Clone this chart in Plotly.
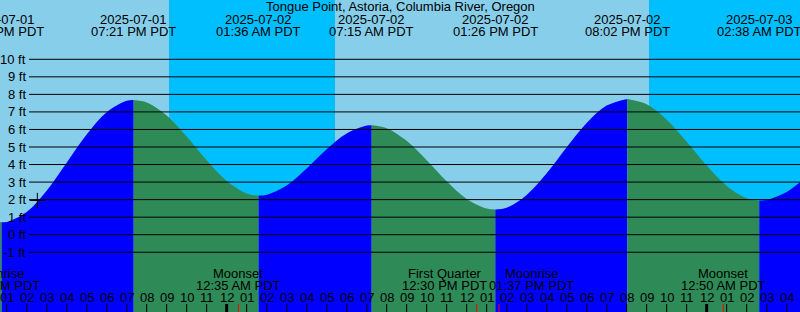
import pandas as pd
import plotly.graph_objects as go

# ---------------- data ----------------
title_text = "Tongue Point, Astoria, Columbia River, Oregon"

# tide extremes
tide_times = ["2025-07-01 12:45", "2025-07-01 19:21", "2025-07-02 01:36", "2025-07-02 07:15",
              "2025-07-02 13:26", "2025-07-02 20:02", "2025-07-03 02:38"]
tide_heights = [0.71, 7.68, 2.23, 6.24, 1.43, 7.74, 1.95]

# water level (ft)
level_times = ["2025-07-01 12:00", "2025-07-01 13:00", "2025-07-01 14:00", "2025-07-01 15:00",
               "2025-07-01 16:00", "2025-07-01 17:00", "2025-07-01 18:00", "2025-07-01 19:00",
               "2025-07-01 20:00", "2025-07-01 21:00", "2025-07-01 22:00", "2025-07-01 23:00",
               "2025-07-02 00:00", "2025-07-02 01:00", "2025-07-02 02:00", "2025-07-02 03:00",
               "2025-07-02 04:00", "2025-07-02 05:00", "2025-07-02 06:00", "2025-07-02 07:00",
               "2025-07-02 08:00", "2025-07-02 09:00", "2025-07-02 10:00", "2025-07-02 11:00",
               "2025-07-02 12:00", "2025-07-02 13:00", "2025-07-02 14:00", "2025-07-02 15:00",
               "2025-07-02 16:00", "2025-07-02 17:00", "2025-07-02 18:00", "2025-07-02 19:00",
               "2025-07-02 21:00", "2025-07-02 22:00", "2025-07-02 23:00", "2025-07-03 00:00",
               "2025-07-03 01:00", "2025-07-03 02:00", "2025-07-03 03:00", "2025-07-03 04:00",
               "2025-07-03 05:00"]
level_heights = [0.82, 0.73, 1.30, 2.51, 4.10, 5.71, 6.98, 7.63,
                 7.54, 6.80, 5.60, 4.24, 3.06, 2.35, 2.28, 2.81,
                 3.77, 4.87, 5.77, 6.22, 6.07, 5.35, 4.25, 3.05,
                 2.04, 1.49, 1.54, 2.27, 3.50, 4.99, 6.37, 7.36,
                 7.44, 6.56, 5.30, 3.94, 2.78, 2.08, 1.99, 2.44, 3.31]

# sun (night bands)
sunset_times = ["2025-07-01 21:07", "2025-07-02 21:07"]
sunrise_times = ["2025-07-02 05:25", "2025-07-03 05:26"]

# moon events
moon_times = ["2025-07-01 12:31", "2025-07-02 00:35", "2025-07-02 12:30",
              "2025-07-02 13:37", "2025-07-03 00:50"]
moon_names = ["Moonrise", "Moonset", "First Quarter", "Moonrise", "Moonset"]

# now marker
now_time = "2025-07-01 14:32"
now_height = 1.95

# axis labels
ft_values = list(range(-1, 11))
ft_labels = [f"{v} ft" for v in ft_values]
hour_ticks = pd.date_range("2025-07-01 13:00", "2025-07-03 04:00", freq="h")
hour_labels = [t.strftime("%I") for t in hour_ticks]

# ---------------- layout / style ----------------
W, H = 800, 312
x_range = ["2025-07-01 12:40", "2025-07-03 04:40"]
y_range = [-4.407, 13.381]
DAY = "#87CEEB"
NIGHT = "#00BFFF"
RISE = "#0000FF"
FALL = "#2E8B57"
FONT = dict(family="Liberation Sans", size=13, color="black")
moon_label_shift = [0, 0, -32, 32, 0]

t_start, t_end = pd.Timestamp(x_range[0]), pd.Timestamp(x_range[1])


def xfrac(t):
    return (pd.Timestamp(t) - t_start) / (t_end - t_start)


def yfrac(px):
    return 1 - px / H


fig = go.Figure()

# water fill segments (blue rising, green falling)
pts = pd.DataFrame({
    "t": pd.to_datetime(level_times + tide_times),
    "h": level_heights + tide_heights,
    "ext": [False] * len(level_times) + [True] * len(tide_times),
}).sort_values("t").reset_index(drop=True)
ext_idx = list(pts.index[pts["ext"]])
bounds = [0] + ext_idx + [len(pts) - 1]
base = y_range[0] - 2
for a, b in zip(bounds[:-1], bounds[1:]):
    if a == b:
        continue
    seg = pts.iloc[a:b + 1]
    color = RISE if seg["h"].iloc[-1] > seg["h"].iloc[0] else FALL
    fig.add_trace(go.Scatter(x=[seg["t"].iloc[0], seg["t"].iloc[-1]], y=[base, base],
                             mode="lines", line=dict(width=0), hoverinfo="skip",
                             showlegend=False))
    fig.add_trace(go.Scatter(x=seg["t"], y=seg["h"], mode="lines", fill="tonexty",
                             fillcolor=color, line=dict(width=0, shape="spline", color=color),
                             hoverinfo="skip", showlegend=False))

# now marker
fig.add_trace(go.Scatter(x=[now_time], y=[now_height], mode="markers",
                         marker=dict(symbol="cross-thin", size=11,
                                     line=dict(color="black", width=1)),
                         hoverinfo="skip", showlegend=False))

shapes = []
# night bands
for s, r in zip(sunset_times, sunrise_times):
    shapes.append(dict(type="rect", xref="x", yref="paper", x0=s, x1=r, y0=0, y1=1,
                       fillcolor=NIGHT, line=dict(width=0), layer="below"))
# grid lines
for v in ft_values:
    shapes.append(dict(type="line", xref="paper", yref="y", x0=29 / W, x1=1, y0=v, y1=v,
                       line=dict(color="black", width=1), layer="above"))
# hour ticks
for t in hour_ticks:
    w = 3 if t.hour == 0 else 1
    shapes.append(dict(type="line", xref="x", yref="paper", x0=t, x1=t, y0=0, y1=8 / H,
                       line=dict(color="black", width=w), layer="above"))
# moon event ticks
for t in moon_times:
    shapes.append(dict(type="line", xref="x", yref="paper", x0=t, x1=t, y0=0, y1=8 / H,
                       line=dict(color="red", width=1), layer="above"))

ann = []
ann.append(dict(text=title_text, xref="paper", yref="paper", x=0.5, y=yfrac(6.7),
                xanchor="center", yanchor="middle", showarrow=False, font=FONT))
for t in tide_times:
    ts = pd.Timestamp(t)
    ann.append(dict(text=ts.strftime("%Y-%m-%d"), xref="paper", yref="paper", x=xfrac(ts),
                    y=yfrac(19.5), xanchor="center", yanchor="middle", showarrow=False, font=FONT))
    ann.append(dict(text=ts.strftime("%I:%M %p PDT"), xref="paper", yref="paper", x=xfrac(ts),
                    y=yfrac(31.3), xanchor="center", yanchor="middle", showarrow=False, font=FONT))
for t, name, sh in zip(moon_times, moon_names, moon_label_shift):
    ts = pd.Timestamp(t)
    ann.append(dict(text=name, xref="paper", yref="paper", x=xfrac(ts), xshift=sh,
                    y=yfrac(273.8), xanchor="center", yanchor="middle", showarrow=False, font=FONT))
    ann.append(dict(text=ts.strftime("%I:%M %p PDT"), xref="paper", yref="paper", x=xfrac(ts),
                    xshift=sh, y=yfrac(285.5), xanchor="center", yanchor="middle",
                    showarrow=False, font=FONT))
for t, lab in zip(hour_ticks, hour_labels):
    ann.append(dict(text=lab, xref="paper", yref="paper", x=xfrac(t), y=yfrac(297.5),
                    xanchor="center", yanchor="middle", showarrow=False, font=FONT))
for v, lab in zip(ft_values, ft_labels):
    ann.append(dict(text=lab, xref="paper", yref="y", x=28 / W, y=v,
                    xanchor="right", yanchor="middle", showarrow=False, font=FONT))

fig.update_layout(
    width=W, height=H, margin=dict(l=0, r=0, t=0, b=0),
    paper_bgcolor=DAY, plot_bgcolor=DAY,
    xaxis=dict(type="date", range=x_range, visible=False, fixedrange=True),
    yaxis=dict(range=y_range, visible=False, fixedrange=True),
    shapes=shapes, annotations=ann, showlegend=False, hovermode=False,
)

fig.write_html("out.html", config={"displayModeBar": False})
